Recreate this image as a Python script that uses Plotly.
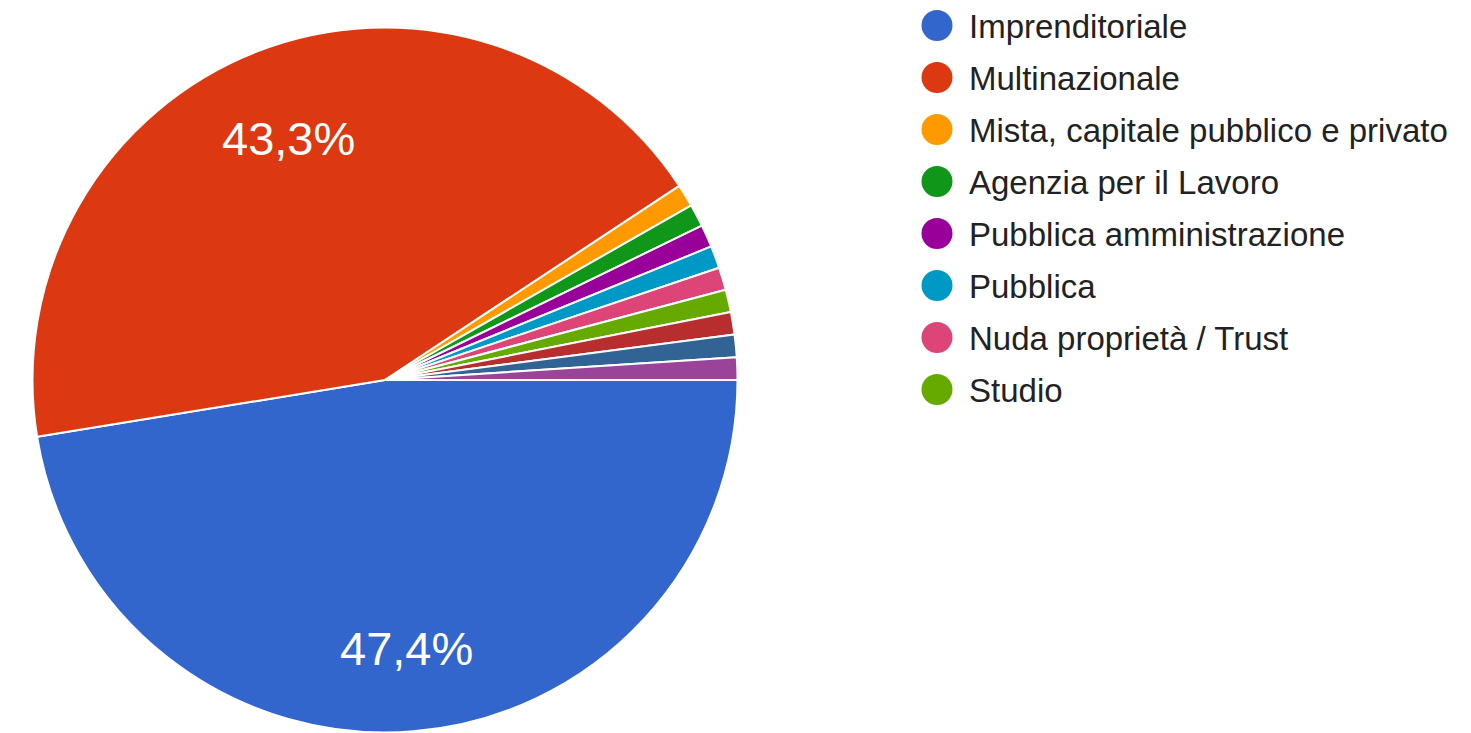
import math
import plotly.graph_objects as go

# Survey answers: type of employer / organisation
categories = [
    "Imprenditoriale",
    "Multinazionale",
    "Mista, capitale pubblico e privato",
    "Agenzia per il Lavoro",
    "Pubblica amministrazione",
    "Pubblica",
    "Nuda proprietà / Trust",
    "Studio",
]
# response counts per slice (the last three slices are on the next legend page)
counts = [46, 42, 1, 1, 1, 1, 1, 1, 1, 1, 1]
colors = ["#3366cc", "#dc3912", "#ff9900", "#109618", "#990099", "#0099c6",
          "#dd4477", "#66aa00", "#b82e2e", "#316395", "#994499"]

W, H = 1471, 733
FONT = "Arial, 'Liberation Sans', sans-serif"

# pie placement in pixels
cx, cy, R = 385.0, 380.0, 352.5
START_DEG = 90  # first slice starts at 3 o'clock, clockwise


def px_x(x):
    return x / W


def px_y(y):
    return 1 - y / H


fig = go.Figure()
fig.add_trace(go.Pie(
    values=counts,
    sort=False,
    direction="clockwise",
    rotation=START_DEG,
    marker=dict(colors=colors, line=dict(color="white", width=2)),
    textinfo="none",
    hoverinfo="percent",
    showlegend=False,
    domain=dict(x=[px_x(cx - R), px_x(cx + R)], y=[px_y(cy + R), px_y(cy - R)]),
))

# percentage labels on the large slices, placed on each slice's bisector
total = sum(counts)
annotations = []
acc = 0.0
for v in counts:
    frac = v / total
    mid = (acc + frac / 2) * 360.0  # degrees clockwise from 3 o'clock
    acc += frac
    if frac < 0.05:
        continue
    a = math.radians(mid)
    r = 0.75 * R
    x = cx + r * math.cos(a)
    y = cy + r * math.sin(a) + 5
    label = f"{frac * 100:.1f}%".replace(".", ",")
    annotations.append(dict(
        x=px_x(x), y=px_y(y), xref="paper", yref="paper",
        text=label, showarrow=False, xanchor="center", yanchor="middle",
        font=dict(family=FONT, size=47, color="white"),
    ))

# legend: coloured dots with labels
LEG_X, LEG_Y0, LEG_STEP, DOT_R, TEXT_X = 937.0, 25.5, 52.0, 15.5, 967.0
shapes = []
for i, name in enumerate(categories):
    yc = LEG_Y0 + i * LEG_STEP
    shapes.append(dict(
        type="circle", xref="paper", yref="paper",
        x0=px_x(LEG_X - DOT_R), x1=px_x(LEG_X + DOT_R),
        y0=px_y(yc + DOT_R), y1=px_y(yc - DOT_R),
        fillcolor=colors[i], line=dict(width=0),
    ))
    annotations.append(dict(
        x=px_x(TEXT_X), y=px_y(yc + 1), xref="paper", yref="paper",
        text=name, showarrow=False, xanchor="left", yanchor="middle",
        font=dict(family=FONT, size=33, color="#222222"),
    ))

fig.update_layout(
    width=W, height=H,
    margin=dict(l=0, r=0, t=0, b=0),
    paper_bgcolor="white", plot_bgcolor="white",
    annotations=annotations, shapes=shapes,
    font=dict(family=FONT),
)

fig.write_html("out.html")
